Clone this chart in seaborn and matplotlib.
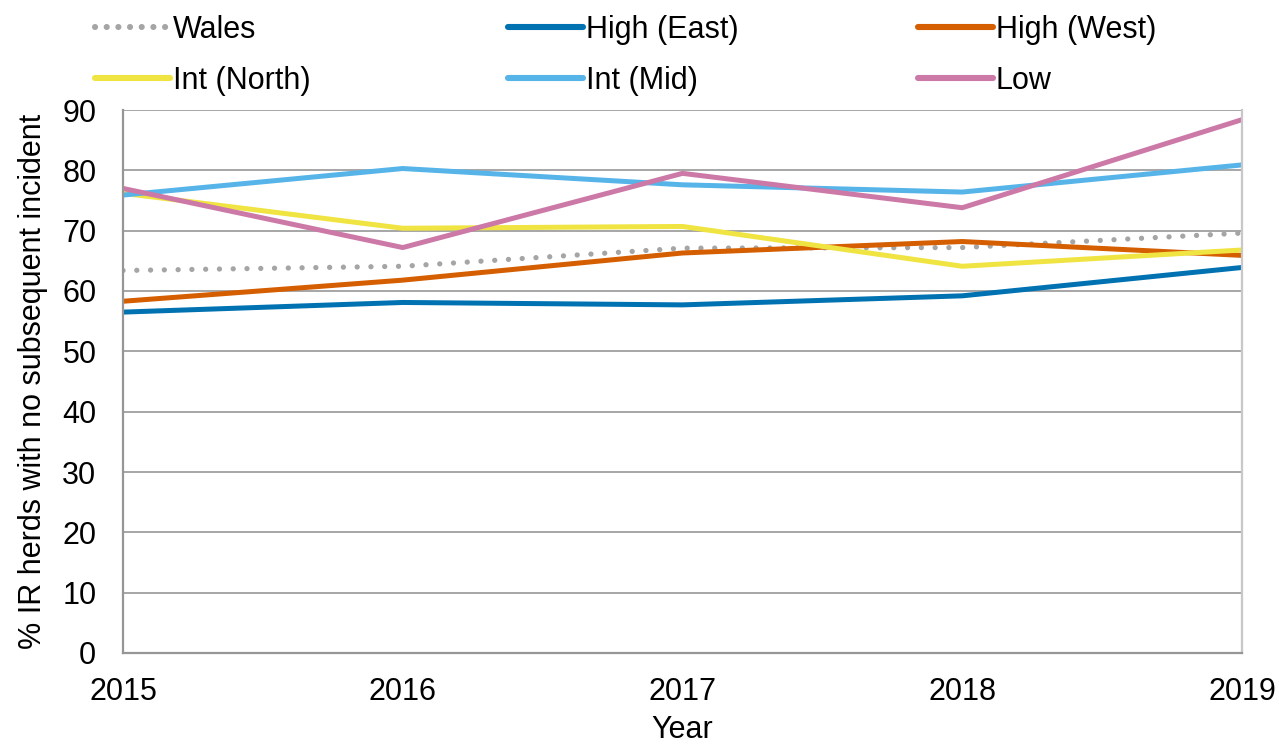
import matplotlib
matplotlib.use("Agg")
import matplotlib.pyplot as plt
import seaborn as sns
import pandas as pd

years = [2015, 2016, 2017, 2018, 2019]
wales = [63.4, 64.1, 67.1, 67.2, 69.6]
high_east = [56.5, 58.1, 57.7, 59.2, 63.9]
high_west = [58.3, 61.8, 66.3, 68.2, 65.9]
int_north = [76.2, 70.4, 70.7, 64.1, 66.8]
int_mid = [75.9, 80.3, 77.6, 76.4, 80.9]
low = [77.0, 67.2, 79.5, 73.8, 88.4]

series_names = ["Wales", "High (East)", "High (West)", "Int (North)", "Int (Mid)", "Low"]
series_values = [wales, high_east, high_west, int_north, int_mid, low]
colors = {
    "Wales": "#A5A5A5",
    "High (East)": "#0072B2",
    "High (West)": "#D55E00",
    "Int (North)": "#F0E442",
    "Int (Mid)": "#56B4E9",
    "Low": "#CC79A7",
}

df = pd.DataFrame(
    [(n, y, v) for n, vals in zip(series_names, series_values) for y, v in zip(years, vals)],
    columns=["Area", "Year", "Value"],
)

sns.set_style("white")
plt.rcParams["font.family"] = ["Liberation Sans", "DejaVu Sans"]
plt.rcParams["text.color"] = "black"
plt.rcParams["axes.labelcolor"] = "black"
plt.rcParams["xtick.labelcolor"] = "black"
plt.rcParams["ytick.labelcolor"] = "black"

FS = 22

fig = plt.figure(figsize=(12.79, 7.46), dpi=100)
ax = fig.add_axes([123 / 1279, 1 - 653 / 746, (1242 - 123) / 1279, (653 - 110) / 746])

for name in series_names:
    sub = df[df["Area"] == name]
    sns.lineplot(data=sub, x="Year", y="Value", ax=ax, color=colors[name],
                 linewidth=3.6, label=name, legend=False)
    line = ax.lines[-1]
    if name == "Wales":
        line.set_linestyle((0, (0.01, 2.6)))
        line.set_dash_capstyle("round")
        line.set_linewidth(3.8)
    line.set_solid_capstyle("butt")

ax.set_xlim(2015, 2019)
ax.set_ylim(0, 90)
ax.set_xticks(years)
ax.set_yticks(range(0, 91, 10))
ax.grid(axis="y", color="#A6A6A6", linewidth=1.4)
ax.grid(axis="x", visible=False)
ax.set_axisbelow(True)
for side in ["left", "bottom", "right"]:
    ax.spines[side].set_visible(True)
    ax.spines[side].set_color("#969696")
    ax.spines[side].set_linewidth(1.6)
ax.spines["top"].set_visible(False)
ax.spines["right"].set_color("#C8C8C8")
ax.tick_params(axis="both", which="both", direction="out", length=7.2, width=1.5,
               color="#969696", labelsize=FS)
ax.tick_params(axis="y", pad=12)
ax.tick_params(axis="x", pad=10)
ax.set_xticklabels([str(y) for y in years])
ax.set_xlabel("Year", fontsize=FS, labelpad=6)
ax.set_ylabel("% IR herds with no subsequent incident", fontsize=FS, labelpad=10)

# legend laid out as three columns of two entries each
columns = [["Wales", "Int (North)"], ["High (East)", "Int (Mid)"], ["High (West)", "Low"]]
col_x = [95, 508, 918]
for names, x0 in zip(columns, col_x):
    hs = []
    for n in names:
        h = plt.Line2D([], [], color=colors[n], linewidth=4.4)
        if n == "Wales":
            h.set_linestyle((0, (0.01, 1.9)))
            h.set_dash_capstyle("round")
        hs.append(h)
    fig.legend(hs, names, loc="upper left", bbox_to_anchor=(x0 / 1279, 1 - 15 / 746),
               ncol=1, frameon=False, fontsize=FS, handlelength=2.45, handletextpad=0.1,
               labelspacing=0.68, borderpad=0, borderaxespad=0)

fig.savefig("out.png", dpi=100)
